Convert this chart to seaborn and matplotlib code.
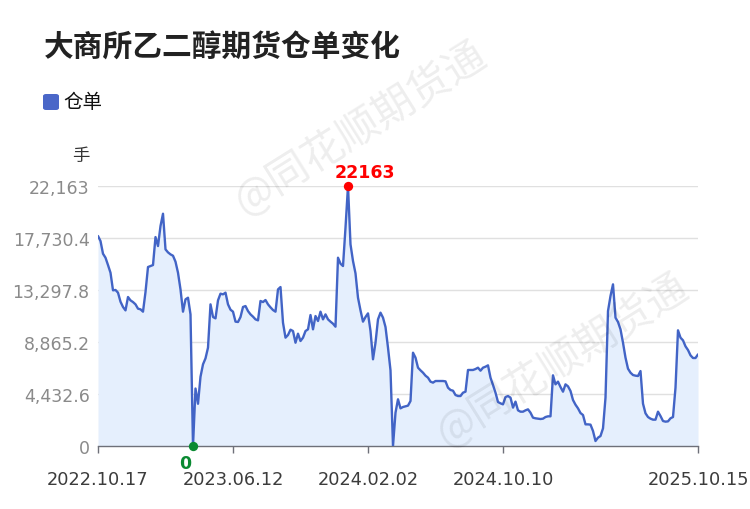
import numpy as np
import pandas as pd
import matplotlib
matplotlib.use("Agg")
import matplotlib.pyplot as plt
import seaborn as sns
from matplotlib.patches import FancyBboxPatch

# ---------------- data ----------------
title = "大商所乙二醇期货仓单变化"
series_name = "仓单"
unit = "手"
tick_idx = [0, 54, 108, 162, 240]
tick_labels = ["2022.10.17", "2023.06.12", "2024.02.02", "2024.10.10", "2025.10.15"]
y_ticks = [0, 4432.6, 8865.2, 13297.8, 17730.4, 22163]
y_tick_labels = ["0", "4,432.6", "8,865.2", "13,297.8", "17,730.4", "22,163"]

values = [
    17900, 17470, 16390, 16050, 15425, 14770, 13270, 13300, 13070, 12300,
    11850, 11560, 12700, 12415, 12270, 12075, 11705, 11650, 11450, 13125,
    15255, 15340, 15425, 17810, 17045, 18750, 19800, 16760, 16505, 16335,
    16220, 15710, 14770, 13350, 11450, 12500, 12640, 11220, 0, 4900,
    3600, 5900, 6960, 7470, 8380, 12075, 10995, 10880, 12415, 12985,
    12925, 13070, 12075, 11620, 11450, 10600, 10570, 10995, 11850, 11930,
    11500, 11220, 11025, 10795, 10710, 12360, 12270, 12445, 12075, 11820,
    11590, 11450, 13350, 13550, 10510, 9235, 9460, 9915, 9800, 8805,
    9575, 8950, 9235, 9800, 9945, 11165, 9945, 11080, 10655, 11450,
    10795, 11220, 10795, 10600, 10425, 10170, 16050, 15540, 15340, 18610,
    22163, 17190, 15770, 14715, 12640, 11560, 10600, 10995, 11305, 9800,
    7390, 8805, 10795, 11365, 10940, 10140, 8380, 6450, 0, 2840,
    3980, 3210, 3325, 3380, 3440, 3835, 7955, 7530, 6675, 6450,
    6250, 5995, 5825, 5485, 5400, 5540, 5540, 5540, 5540, 5510,
    4970, 4775, 4715, 4345, 4260, 4260, 4545, 4630, 6480, 6480,
    6480, 6560, 6675, 6420, 6675, 6760, 6875, 5825, 5200, 4545,
    3750, 3635, 3550, 4175, 4260, 4120, 3270, 3780, 3040, 2925,
    2925, 3040, 3125, 2840, 2415, 2360, 2330, 2300, 2330, 2470,
    2530, 2530, 6025, 5255, 5485, 5030, 4630, 5255, 5085, 4690,
    3920, 3520, 3210, 2810, 2640, 1845, 1845, 1820, 1280, 425,
    710, 850, 1505, 4120, 11505, 12785, 13780, 10940, 10570, 9945,
    8805, 7530, 6590, 6250, 6050, 5995, 5965, 6390, 3610, 2785,
    2470, 2330, 2245, 2245, 2925, 2555, 2130, 2075, 2100, 2360,
    2470, 4970, 9860, 9235, 9005, 8495, 8180, 7730, 7500, 7500,
    7810,
]

# ---------------- style ----------------
LINE = "#4264c6"
FILL = "#e5effd"
W, H = 750, 510

sns.set_theme(style="white")
plt.rcParams["font.family"] = ["DejaVu Sans", "Noto Sans CJK SC"]
CJK = ["Noto Sans CJK SC", "DejaVu Sans"]

df = pd.DataFrame({"idx": np.arange(len(values)), "value": values})

fig = plt.figure(figsize=(W / 100, H / 100), dpi=100)
ax = fig.add_axes([98 / W, 1 - 447 / H, 600 / W, 260 / H])

ax.fill_between(df["idx"], df["value"], 0, color=FILL, lw=0, zorder=1)
sns.lineplot(data=df, x="idx", y="value", ax=ax, color=LINE, lw=1.7, zorder=3)

ax.set_xlim(0, len(values) - 1)
ax.set_ylim(0, 22163)
ax.set_yticks(y_ticks, y_tick_labels)
ax.set_xticks(tick_idx, tick_labels)
ax.set_xlabel("")
ax.set_ylabel("")
ax.grid(axis="y", color="#e0e0e0", lw=1)
ax.grid(axis="x", visible=False)
ax.set_axisbelow(True)
for s in ["left", "right", "top"]:
    ax.spines[s].set_visible(False)
ax.spines["bottom"].set_color("#6e7079")
ax.spines["bottom"].set_linewidth(1)
ax.tick_params(axis="y", length=0, pad=6, labelsize=12.5, labelcolor="#8a8a8a")
ax.tick_params(axis="x", length=5, width=1, color="#6e7079", pad=12.5,
               labelsize=12.8, labelcolor="#3c3c3c", bottom=True)

# max / min markers
imax = int(np.argmax(values))
imin = int(np.argmin(values))
ax.scatter([imax], [values[imax]], s=45, color="#ff0000", zorder=6, clip_on=False, linewidths=0)
ax.annotate(f"{values[imax]}", (imax, values[imax]), xytext=(17 * 0.72, 14 * 0.72),
            textcoords="offset points", ha="center", va="center",
            color="#ff0000", fontweight="bold", fontsize=12.5, annotation_clip=False)
ax.scatter([imin], [values[imin]], s=45, color="#0a8a32", zorder=6, clip_on=False, linewidths=0)
ax.annotate(f"{values[imin]}", (imin, values[imin]), xytext=(-8 * 0.72, -17 * 0.72),
            textcoords="offset points", ha="center", va="center",
            color="#0a8a32", fontweight="bold", fontsize=12.5, annotation_clip=False)

# title, legend, unit
fig.text(44 / W, 1 - 48 / H, title, fontsize=21.4, fontweight="bold", color="#222222",
         ha="left", va="center", family=CJK)
fig.patches.append(FancyBboxPatch((43 / W, 1 - 111 / H), 16 / W, 16 / H,
                                  boxstyle="round,pad=0,rounding_size=0.004",
                                  transform=fig.transFigure, color="#4a67c8", lw=0))
fig.text(63 / W, 1 - 102.5 / H, series_name, fontsize=14, color="#111111",
         ha="left", va="center", family=CJK)
fig.text(81 / W, 1 - 155.5 / H, unit, fontsize=12.5, color="#333333",
         ha="center", va="center", family=CJK)

# watermark
for cx, cy in [(360, 128), (562, 360)]:
    fig.text(cx / W, 1 - cy / H, "@同花顺期货通", fontsize=30, color="#000000", alpha=0.07,
             rotation=32, rotation_mode="anchor", ha="center", va="center", family=CJK, zorder=10)

fig.savefig("out.png", dpi=100)
